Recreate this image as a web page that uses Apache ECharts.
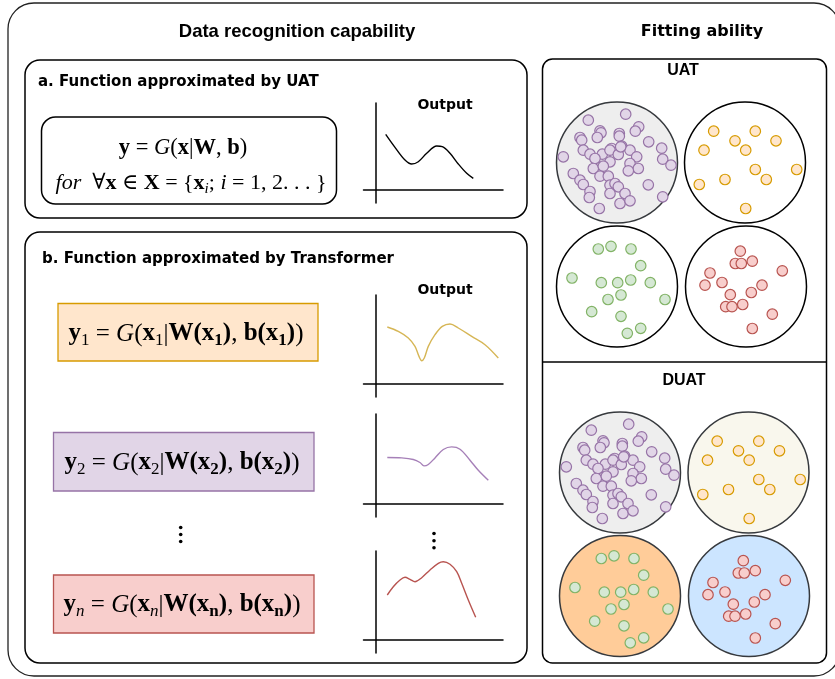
<!DOCTYPE html>
<html><head><meta charset="utf-8">
<script src="https://cdn.jsdelivr.net/npm/echarts@6/dist/echarts.min.js"></script>
<style>html,body{margin:0;padding:0;background:#fff}#c{width:835px;height:679px}</style>
</head><body><div id="c"></div>
<script>
// ---------- DATA (offsets from circle centre, px; y downwards) ----------
const purpleDots = [[8.7,-48.3],[-28.7,-42.3],[-17,-31.7],[-16,-29.7],[2.3,-29],[21.7,-35.7],[18.3,-31.3],
 [-37,-25],[-19.7,-25],[-35.3,-22.3],[31.7,-20.7],[44.7,-14.3],[2.3,-26.3],[4.7,-16.3],[-5.3,-14],[13,-12.3],
 [-33.7,-12.3],[-27,-8.3],[-14.7,-8.3],[-7,-12.3],[1.3,-8],[19.7,-5.7],[-53.7,-5.7],[45.7,-3.3],[54,2.7],
 [-22,-4],[-7,-0.7],[13,1],[21.3,6],[11.3,8.3],[-23.7,6],[-13.7,3.7],[-43.7,11],[-17,13.7],[-8.7,13.7],
 [-37,17.7],[-33.7,22],[-7,22.7],[-2,21],[1.3,24.3],[31.3,22.3],[-27,29],[-7,31],[8,31],[-27.7,35],
 [3,41],[13,38.3],[-17.7,46],[45.7,34.3],[3.7,-15.7]];
const orangeDots = [[-31.3,-31.3],[10.3,-31.3],[-10,-21.7],[31,-21.7],[-41,-12.3],[0.7,-12.3],[10.3,7],
 [51.7,7],[-20,17],[21.3,17],[-45.7,22],[0.7,46]];
const greenDots = [[-18.7,-37.5],[-6,-40.2],[14,-37.5],[23.7,-20.8],[-45,-8.5],[-15.7,-3.8],[0.7,-3.8],
 [13.7,-6.5],[33.3,-3.8],[4,8.5],[-9,13],[48,13],[-25.3,25.2],[4,29.8],[23.7,41.8],[10.3,46.8]];
const redDots = [[-5.7,-35.3],[-10.7,-23],[-4.7,-23],[6.3,-25.3],[36.3,-15.7],[-36,-13.5],[-41,-1.3],
 [-24,-4],[5.3,6],[16,-1.3],[-15.7,8.2],[-20.3,20.2],[-14,20.2],[-3.3,18],[26.3,27.7],[6.3,42]];

// output curves: [x from vertical axis, height above horizontal axis]
const curveUAT = [[10,55.7],[19.3,42.7],[29.3,30],[36,26],[42.6,28.3],[51,36.7],[61,44],[66.6,43.3],
 [74.3,36.7],[82.6,26],[91,16.7],[97.6,11.7]];
const curveY1 = [[11.6,57],[22.6,52.6],[32.6,46],[39.3,37.6],[43.3,27.6],[46,23.3],[48.6,26],[52.6,37.6],
 [59.3,49.3],[66.6,57.6],[74.3,60],[82.6,56],[96,47.6],[109.3,39.3],[122.6,26]];
const curveY2 = [[11.6,46],[26,45.6],[37.6,44],[44.3,41],[48.3,37.6],[52.6,39],[59.3,45.6],[67.6,54],
 [76,56.6],[84.3,54.3],[94.3,43.3],[102.6,33.3],[112.6,23.3]];
const curveYn = [[11.6,45],[17.6,53.3],[24.3,60],[29.3,62.7],[34.3,60.7],[39.3,58.3],[46,62.3],[54.3,70],
 [62.6,76.7],[67.6,78.3],[74.3,75.7],[81,68.3],[86,56.7],[92.6,40],[100,22.7]];

// ---------- LAYOUT ----------
const C = {
  purple:{fill:'#e1d5e7',stroke:'#9673a6'}, orange:{fill:'#ffe6cc',stroke:'#d79b00'},
  green:{fill:'#d5e8d4',stroke:'#82b366'}, red:{fill:'#f8cecc',stroke:'#b85450'}
};
const R = 60.5;
const circles = [
  {cx:617,cy:162.5,fill:'#eeeeee',stroke:'#36393d',dots:purpleDots,c:C.purple},
  {cx:745,cy:162.5,fill:'#ffffff',stroke:'#000000',dots:orangeDots,c:C.orange},
  {cx:617,cy:286.5,fill:'#ffffff',stroke:'#000000',dots:greenDots,c:C.green},
  {cx:746,cy:286.5,fill:'#ffffff',stroke:'#000000',dots:redDots,c:C.red},
  {cx:620,cy:472.5,fill:'#eeeeee',stroke:'#36393d',dots:purpleDots,c:C.purple},
  {cx:748.5,cy:472.5,fill:'#f9f7ed',stroke:'#36393d',dots:orangeDots,c:C.orange},
  {cx:620,cy:596,fill:'#ffcc99',stroke:'#36393d',dots:greenDots,c:C.green},
  {cx:749,cy:596,fill:'#cce5ff',stroke:'#36393d',dots:redDots,c:C.red}
];
const charts = [
  {top:103,bottom:203,hy:190,data:curveUAT,color:'#000000'},
  {top:295,bottom:397,hy:384,data:curveY1,color:'#d6b656'},
  {top:414,bottom:517,hy:503.5,data:curveY2,color:'#a680b8'},
  {top:551,bottom:653,hy:640,data:curveYn,color:'#b85450'}
];
const AX = 375.7, AL = 363.5, AR = 503;

const grid = [], xAxis = [], yAxis = [], series = [];
circles.forEach((o,i)=>{
  grid.push({left:o.cx-R,top:o.cy-R,width:2*R,height:2*R,outerBoundsMode:'none'});
  xAxis.push({type:'value',gridIndex:i,min:-R,max:R,show:false});
  yAxis.push({type:'value',gridIndex:i,min:-R,max:R,show:false,inverse:true});
  series.push({type:'scatter',xAxisIndex:i,yAxisIndex:i,data:o.dots,symbolSize:10.5,silent:true,
    itemStyle:{color:o.c.fill,borderColor:o.c.stroke,borderWidth:1.2,opacity:1}});
});
charts.forEach((ch,k)=>{
  const i = circles.length + k;
  grid.push({left:AL,top:ch.top,width:AR-AL,height:ch.bottom-ch.top,outerBoundsMode:'none'});
  const axStyle = {show:true,onZero:true,lineStyle:{color:'#000',width:1.5}};
  xAxis.push({type:'value',gridIndex:i,min:-(AX-AL),max:AR-AX,axisLine:axStyle,
    axisTick:{show:false},axisLabel:{show:false},splitLine:{show:false}});
  yAxis.push({type:'value',gridIndex:i,min:-(ch.bottom-ch.hy),max:ch.hy-ch.top,axisLine:axStyle,
    axisTick:{show:false},axisLabel:{show:false},splitLine:{show:false}});
  series.push({type:'line',xAxisIndex:i,yAxisIndex:i,data:ch.data,smooth:0.35,showSymbol:false,silent:true,
    lineStyle:{color:ch.color,width:1.4}});
});

// ---------- TEXT / DECORATION ----------
function txt(x,y,text,font,extra){
  return {type:'text',x:x,y:y,z:20,silent:true,style:Object.assign({text:text,font:font,fill:'#000',
    align:'center',verticalAlign:'middle',textAlign:'center',textVerticalAlign:'middle'},extra||{})};
}
function rect(x,y,w,h,r,fill,stroke,lw){
  return {type:'rect',z:0,silent:true,shape:{x:x,y:y,width:w,height:h,r:r},
    style:{fill:fill,stroke:stroke,lineWidth:lw||1.5}};
}
const SERIF = '"Liberation Serif", "DejaVu Serif", serif';
function makeRich(fs){
  const lh = Math.round(fs*1.25), ss = Math.round(fs*0.66), slh = Math.round(fs*0.78);
  return {
    B:{fontFamily:SERIF,fontWeight:'bold',fontSize:fs,lineHeight:lh},
    I:{fontFamily:SERIF,fontStyle:'italic',fontSize:fs,lineHeight:lh},
    S:{fontFamily:SERIF,fontSize:ss,lineHeight:slh,verticalAlign:'bottom'},
    SI:{fontFamily:SERIF,fontStyle:'italic',fontSize:ss,lineHeight:slh,verticalAlign:'bottom'},
    SB:{fontFamily:SERIF,fontWeight:'bold',fontSize:ss,lineHeight:slh,verticalAlign:'bottom'}
  };
}
function formula(x,y,text,fs){
  return {type:'text',x:x,y:y,z:20,silent:true,style:{text:text,font:fs+'px '+SERIF,lineHeight:Math.round(fs*1.25),
    fill:'#000',rich:makeRich(fs),align:'center',verticalAlign:'middle',textAlign:'center',textVerticalAlign:'middle'}};
}
const COMIC = '"Comic Sans MS", "DejaVu Sans", sans-serif';
const graphics = [
  rect(8,3,832,673,26,'#fff','#222',1.3),
  rect(25,60,502,158,15,'#fff','#000'),
  rect(41.5,117,295,87,14,'#fff','#000'),
  rect(25,232,502,431,15,'#fff','#000'),
  rect(58,303.5,260,57.5,0,C.orange.fill,C.orange.stroke,1.3),
  rect(53.5,432.5,260.5,58.5,0,C.purple.fill,C.purple.stroke,1.3),
  rect(53.5,575,260.5,58,0,C.red.fill,C.red.stroke,1.3),
  rect(542.5,59,284,604,10,'#fff','#000'),
  {type:'line',z:1,silent:true,shape:{x1:542.5,y1:362,x2:826.5,y2:362},style:{stroke:'#000',lineWidth:1.5}}
];
circles.forEach(o=>graphics.push({type:'circle',z:1,silent:true,shape:{cx:o.cx,cy:o.cy,r:R},
  style:{fill:o.fill,stroke:o.stroke,lineWidth:1.5}}));
[[180.7,527.5],[180.7,534.5],[180.7,541.5],[434,533.5],[434,540.7],[434,547.8]].forEach(p=>
  graphics.push({type:'circle',z:20,silent:true,shape:{cx:p[0],cy:p[1],r:1.8},style:{fill:'#000'}}));

graphics.push(
  txt(297,32,'Data recognition capability','bold 18.5px "Liberation Sans", Arial, sans-serif'),
  txt(702,32,'Fitting ability','bold 16px '+COMIC),
  txt(38,82,'a. Function approximated by UAT','bold 15px '+COMIC,{align:'left',textAlign:'left'}),
  txt(42,259,'b. Function approximated by Transformer','bold 15px '+COMIC,{align:'left',textAlign:'left'}),
  txt(445,105,'Output','bold 14px '+COMIC),
  txt(445,290,'Output','bold 14px '+COMIC),
  txt(683,71,'UAT','bold 16px "Liberation Sans", Arial, sans-serif'),
  txt(684,381,'DUAT','bold 16px "Liberation Sans", Arial, sans-serif'),
  formula(183,148,'{B|y} = {I|G}({B|x}|{B|W}, {B|b})',22.5),
  formula(191,183,'{I|for}  \u2200{B|x} \u2208 {B|X} = {{B|x}{SI|i}; {I|i} = 1, 2. . . }',22),
  formula(186,334,'{B|y}{S|1} = {I|G}({B|x}{S|1}|{B|W(x}{SB|1}{B|)}, {B|b(x}{SB|1}{B|)})',25),
  formula(182,463,'{B|y}{S|2} = {I|G}({B|x}{S|2}|{B|W(x}{SB|2}{B|)}, {B|b(x}{SB|2}{B|)})',25),
  formula(182,605,'{B|y}{SI|n} = {I|G}({B|x}{SI|n}|{B|W(x}{SB|n}{B|)}, {B|b(x}{SB|n}{B|)})',25)
);

const chart = echarts.init(document.getElementById('c'),null,{renderer:'canvas'});
chart.setOption({
  backgroundColor:'#ffffff',animation:false,
  grid:grid,xAxis:xAxis,yAxis:yAxis,series:series,
  graphic:{elements:graphics}
});
</script></body></html>
